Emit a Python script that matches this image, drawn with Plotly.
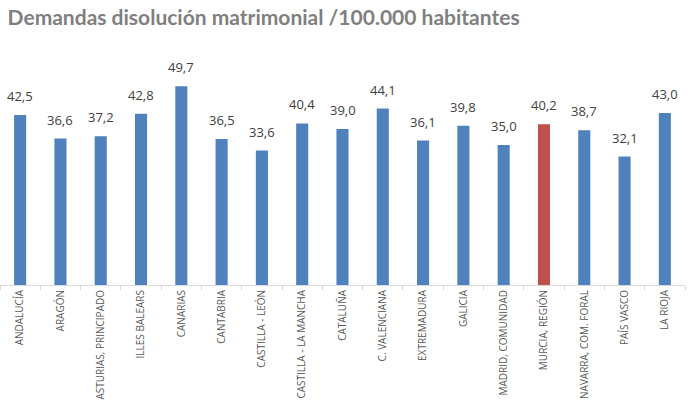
import plotly.graph_objects as go

title_text = "Demandas disolución matrimonial /100.000 habitantes"
regions = ["ANDALUCÍA", "ARAGÓN", "ASTURIAS, PRINCIPADO", "ILLES BALEARS", "CANARIAS",
           "CANTABRIA", "CASTILLA - LEÓN", "CASTILLA - LA MANCHA", "CATALUÑA",
           "C. VALENCIANA", "EXTREMADURA", "GALICIA", "MADRID, COMUNIDAD",
           "MURCIA, REGIÓN", "NAVARRA, COM. FORAL", "PAÍS VASCO", "LA RIOJA"]
values = [42.5, 36.6, 37.2, 42.8, 49.7, 36.5, 33.6, 40.4, 39.0, 44.1, 36.1,
          39.8, 35.0, 40.2, 38.7, 32.1, 43.0]
highlight = "MURCIA, REGIÓN"

BLUE = "#4f81bd"
RED = "#c0504d"
colors = [RED if r == highlight else BLUE for r in regions]
labels = [f"{v:.1f}".replace(".", ",") for v in values]

fig = go.Figure()
fig.add_trace(go.Bar(x=regions, y=values, marker=dict(color=colors, line=dict(width=0)),
                     width=0.3, hoverinfo="skip"))

for r, v, t in zip(regions, values, labels):
    fig.add_annotation(x=r, y=v, text=t, showarrow=False, yanchor="bottom", yshift=8,
                       font=dict(family="Open Sans", size=13, color="#404040"))

fig.update_layout(
    width=690, height=403,
    margin=dict(l=0, r=5, t=65, b=118),
    paper_bgcolor="white", plot_bgcolor="white",
    showlegend=False,
    title=dict(text="<b>" + title_text + "</b>", x=0.011, xanchor="left", y=0.955, yanchor="middle",
               font=dict(family="Lato", size=21, color="#7f7f7f")),
    bargap=0.7,
)
fig.update_xaxes(type="category", tickangle=-90, tickson="boundaries", ticks="outside",
                 ticklen=4, tickcolor="#d9d9d9", showline=True, linecolor="#d9d9d9",
                 linewidth=1, showgrid=False, range=[-0.5, len(regions) - 0.5],
                 automargin=False,
                 tickfont=dict(family="Open Sans", size=10, color="#595959"))
fig.update_yaxes(range=[0, 55], visible=False, showgrid=False, zeroline=False)

fig.write_html("out.html", config={"displayModeBar": False},
               post_script="document.body.style.margin='0px';document.body.style.overflow='hidden';")
